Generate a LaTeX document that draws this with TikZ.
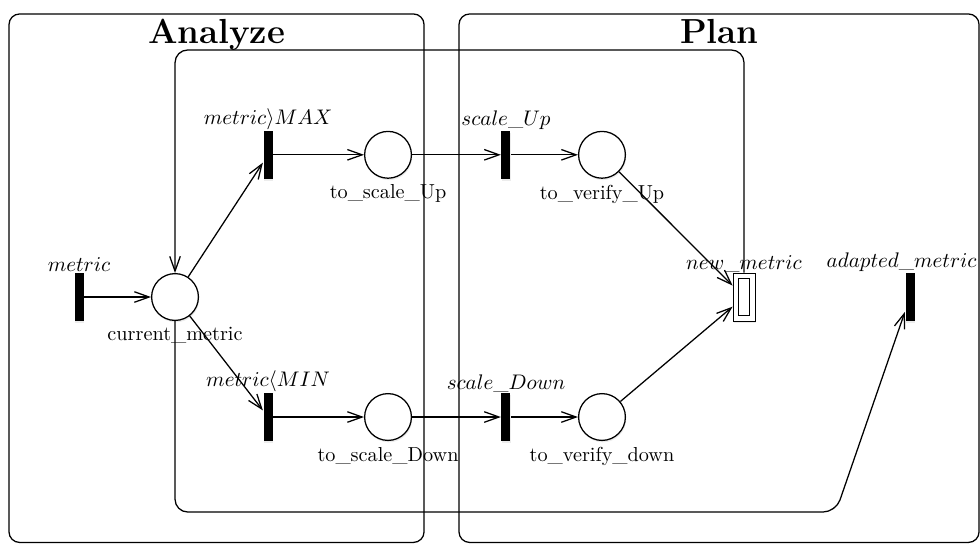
\documentclass[tikz,border=0pt]{standalone}
\usepackage{amsmath}
\usepackage{tikz}
\usetikzlibrary{arrows.meta}
\usetikzlibrary{shadows}

\begin{document}
\begin{tikzpicture}[semithick,
    >={Straight Barb[length=7pt,width=5pt]},
    every label/.style={inner sep=2.5pt,font=\fontsize{9.6}{11.5}\selectfont},
    uplabel/.style={label={[yshift=-2.6pt]above:#1}},
    downlabel/.style={label={below:#1}},
    shade/.style={drop shadow={opacity=0.15,shadow xshift=0.4pt,shadow yshift=-0.9pt}},
    pl/.style={circle,draw,fill=white,minimum size=0.78cm,inner sep=0pt,shade},
    tr/.style={rectangle,fill=black,minimum width=0.15cm,minimum height=0.8cm,inner sep=0pt,shade},
    nm/.style={rectangle,draw,thin,fill=white,minimum width=0.367cm,minimum height=0.8cm,inner sep=0pt,shade,
      path picture={\draw[thin] ([shift={(2.6pt,2.6pt)}]path picture bounding box.south west)
        rectangle ([shift={(-2.6pt,-2.6pt)}]path picture bounding box.north east);}},
    frame/.style={rounded corners=5pt},
    title/.style={anchor=base,font=\fontsize{16.5}{20}\selectfont\bfseries}
  ]
        \def\ytop{6.47}
        \def\ymid{4.1}
        \def\ybot{2.1}

        \useasboundingbox (0,0) rectangle (16.333,9.05);

        %------------------
        % 枠
        %------------------

        \draw[frame] (0.15,0.01) rectangle (7.067,8.817);
        \draw[frame] (7.65,0.01) rectangle (16.317,8.817);
        \node[title] (analyze) at (3.61,8.333) {Analyze};
        \node[title] (plan) at (11.99,8.333) {Plan};

        %------------------
        % ノード
        %------------------

        \node[tr,uplabel=$metric$] (metric) at (1.317,\ymid) {};
        \node[pl,downlabel=current\_metric] (cur) at (2.917,\ymid) {};

        \node[tr,uplabel=$metric\rangle MAX$] (max) at (4.467,\ytop) {};
        \node[tr,uplabel=$metric\langle MIN$] (min) at (4.467,\ybot) {};

        \node[pl,downlabel=to\_scale\_Up] (tsup) at (6.467,\ytop) {};
        \node[pl,downlabel=to\_scale\_Down] (tsdown) at (6.467,\ybot) {};

        \node[tr,uplabel=$scale\_Up$] (sup) at (8.433,\ytop) {};
        \node[tr,uplabel=$scale\_Down$] (sdown) at (8.433,\ybot) {};

        \node[pl,downlabel=to\_verify\_Up] (tvup) at (10.033,\ytop) {};
        \node[pl,downlabel=to\_verify\_down] (tvdown) at (10.033,\ybot) {};

        \node[nm,uplabel=$new\_metric$] (newm) at (12.40,\ymid) {};
        % 右端に収める
        \node[tr,label={[yshift=-2.6pt,xshift=-4pt]above:$adapted\_metric$}] (adm) at (15.167,\ymid) {};

        % 折り返し点
        \coordinate (looptop) at (0,8.217);
        \coordinate (loopbot) at (13.93,0.517);

        %------------------
        % 矢印
        %------------------

        \draw[->] (metric) -- (cur);
        \draw[->] (cur) -- (max);
        \draw[->] (cur) -- (min);
        \draw[->] (max) -- (tsup);
        \draw[->] (min) -- (tsdown);
        \draw[->] (tsup) -- (sup);
        \draw[->] (tsdown) -- (sdown);
        \draw[->] (sup) -- (tvup);
        \draw[->] (sdown) -- (tvdown);
        \draw[->] (tvup) -- (newm);
        \draw[->] (tvdown) -- (newm);

        % ループ
        \draw[->,rounded corners=6pt] (newm.north) |- (cur |- looptop) -- (cur);
        \draw[->,rounded corners=6pt] (cur) |- (loopbot) -- (adm);
      \end{tikzpicture}
\end{document}
